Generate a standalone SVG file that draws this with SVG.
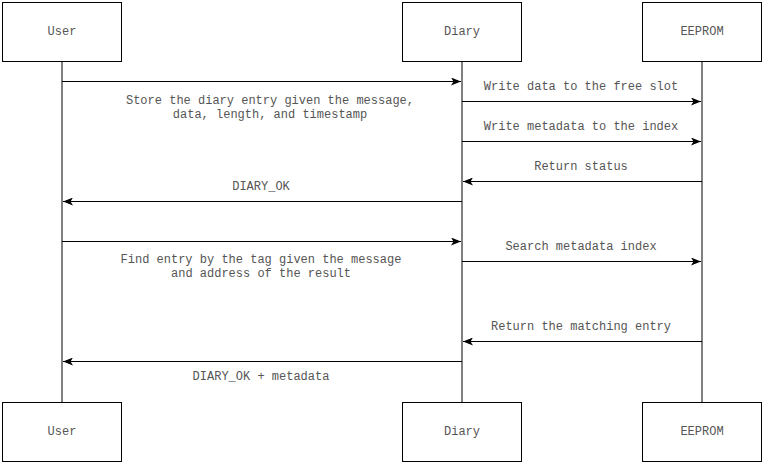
<svg xmlns="http://www.w3.org/2000/svg" width="764" height="464" viewBox="0 0 764 464">
<style>
.box{fill:#fff;stroke:#000;stroke-width:1}
.t{font-family:"Liberation Mono","Courier New",monospace;font-size:12px;fill:#555;text-anchor:middle;dominant-baseline:central}
.msg{stroke:#000;stroke-width:1;fill:none;marker-end:url(#ah)}
.ll{stroke:#808080;stroke-width:2}
</style>
<defs>
<marker id="ah" viewBox="0 0 10 8" refX="10" refY="4" markerWidth="10" markerHeight="8" markerUnits="userSpaceOnUse" orient="auto">
<path d="M0,0 L10,4 L0,8 L2.5,4 Z" fill="#000"/>
</marker>
</defs>
<rect width="764" height="464" fill="#fff"/>
<g id="lifelines">
<line x1="62" y1="62" x2="62" y2="402" stroke="#000" stroke-width="1"/>
<line class="ll" x1="462" y1="62" x2="462" y2="402"/>
<line class="ll" x1="702" y1="62" x2="702" y2="402"/>
</g>
<g id="user-top"><rect class="box" x="2.5" y="2.5" width="119" height="59"/><text class="t" x="62" y="32">User</text></g>
<g id="diary-top"><rect class="box" x="402.5" y="2.5" width="119" height="59"/><text class="t" x="462" y="32">Diary</text></g>
<g id="eeprom-top"><rect class="box" x="642.5" y="2.5" width="119" height="59"/><text class="t" x="702" y="32">EEPROM</text></g>
<g id="user-bottom"><rect class="box" x="2.5" y="402.5" width="119" height="59"/><text class="t" x="62" y="432">User</text></g>
<g id="diary-bottom"><rect class="box" x="402.5" y="402.5" width="119" height="59"/><text class="t" x="462" y="432">Diary</text></g>
<g id="eeprom-bottom"><rect class="box" x="642.5" y="402.5" width="119" height="59"/><text class="t" x="702" y="432">EEPROM</text></g>
<g id="connectors">
<line class="msg" x1="62" y1="81.5" x2="461" y2="81.5"/>
<line class="msg" x1="462" y1="101.5" x2="701" y2="101.5"/>
<line class="msg" x1="462" y1="141.5" x2="701" y2="141.5"/>
<line class="msg" x1="702" y1="181.5" x2="463" y2="181.5"/>
<line class="msg" x1="462" y1="201.5" x2="63" y2="201.5"/>
<line class="msg" x1="62" y1="241.5" x2="461" y2="241.5"/>
<line class="msg" x1="462" y1="261.5" x2="701" y2="261.5"/>
<line class="msg" x1="702" y1="341.5" x2="463" y2="341.5"/>
<line class="msg" x1="462" y1="361.5" x2="63" y2="361.5"/>
</g>
<g id="labels">
<text class="t" x="270" y="101">Store the diary entry given the message,</text>
<text class="t" x="270" y="115">data, length, and timestamp</text>
<text class="t" x="581" y="87">Write data to the free slot</text>
<text class="t" x="581" y="127">Write metadata to the index</text>
<text class="t" x="581" y="167">Return status</text>
<text class="t" x="261" y="187">DIARY_OK</text>
<text class="t" x="261" y="260">Find entry by the tag given the message</text>
<text class="t" x="261" y="274">and address of the result</text>
<text class="t" x="581" y="247">Search metadata index</text>
<text class="t" x="581" y="327">Return the matching entry</text>
<text class="t" x="261" y="377">DIARY_OK + metadata</text>
</g>
</svg>
